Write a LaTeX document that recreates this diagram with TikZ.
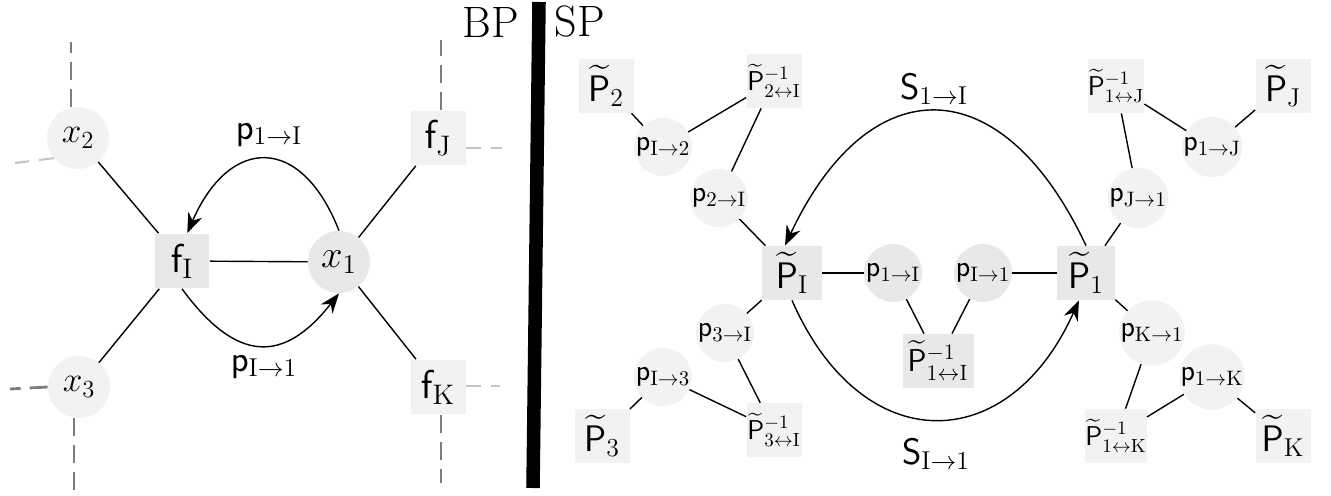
\documentclass[tikz,border=0pt]{standalone}
\usepackage{fix-cm}
\usepackage{amsmath}
\usepackage{tikz}
\usepackage{xcolor}
\usetikzlibrary{arrows.meta}
\definecolor{cLight}{RGB}{242,242,242}
\definecolor{cDark}{RGB}{232,232,232}
\definecolor{cStub}{RGB}{125,125,125}
\newcommand{\tP}{\widetilde{\mathsf{P}}}
\newcommand{\mP}{\mathsf{p}}
\tikzset{
	% factor graph (BP) styles
	varnode/.style  ={circle, fill=cLight, minimum size=1.24cm, inner sep=0pt, font=\fontsize{20}{24}\selectfont},
	facnode/.style  ={rectangle, fill=cLight, minimum size=1.1cm, inner sep=0pt, font=\fontsize{23}{27}\selectfont},
	stub/.style     ={cStub, line width=1.6pt, dash pattern=on 0.36cm off 0.18cm},
	faintstub/.style={cStub!45, line width=1.2pt, dash pattern=on 0.3cm off 0.2cm},
	% SP styles
	msgnode/.style  ={circle, fill=cLight, minimum size=1.16cm, inner sep=0pt, font=\fontsize{17}{20}\selectfont},
	pnode/.style    ={rectangle, fill=cLight, minimum width=1.1cm, minimum height=1.08cm, inner sep=0pt, font=\fontsize{21}{25}\selectfont},
	pinvnode/.style ={rectangle, fill=cLight, minimum width=1.1cm, minimum height=1.08cm, inner sep=0pt, font=\fontsize{15.5}{18}\selectfont},
	link/.style     ={line width=0.8pt},
	msgarrow/.style ={-{Stealth[length=0.4cm, width=0.3cm]}, line width=0.8pt},
	lbl/.style      ={inner sep=0pt, font=\fontsize{21}{25}\selectfont},
	hdr/.style      ={inner sep=0pt, font=\fontsize{25}{30}\selectfont},
}

\begin{document}
\begin{tikzpicture}[x=0.02cm, y=-0.02cm]
	\useasboundingbox (0,0) rectangle (1331,496);
	% BP side
	\node[varnode] (x2) at (78,138) {$x_2$};
	\node[varnode] (x3) at (79,387) {$x_3$};
	\node[varnode, fill=cDark, font=\fontsize{22}{26}\selectfont] (x1) at (339,262) {$x_1$};
	\node[facnode, fill=cDark] (fI) at (182,261) {$\mathsf{f}_{\mathrm{I}}$};
	\node[facnode] (fJ) at (438,138) {$\mathsf{f}_{\mathrm{J}}$};
	\node[facnode] (fK) at (438,387) {$\mathsf{f}_{\mathrm{K}}$};
	\foreach \a/\b in {x2/fI, fI/x3, fI/x1, x1/fJ, x1/fK}
		\draw[link] (\a) -- (\b);
	\draw[msgarrow] (x1.north) .. controls +(-38,-97) and +(42,-97) .. ([xshift=3]fI.north);
	\draw[msgarrow] (fI.south) .. controls +(55,75) and +(-55,70) .. (x1.south);
	\node[lbl] (l1I) at (269,135) {$\mP_{1\to\mathrm{I}}$};
	\node[lbl] (lI1) at (264,367) {$\mP_{\mathrm{I}\to1}$};
	% cut edges
	\coordinate (x2up) at (71,42);
	\coordinate (x2left) at (15,163);
	\coordinate (x3left) at (10,389);
	\coordinate (x3down) at (74,490);
	\coordinate (fJup) at (441,40);
	\coordinate (fJright) at (502,148);
	\coordinate (fKright) at (500,386);
	\coordinate (fKdown) at (441,483);
	\draw[stub] (x2up |- x2.north) -- (x2up);
	\draw[faintstub] (x2.220) -- (x2left);
	\draw[stub] (x3.west) -- (x3left);
	\draw[stub] (x3down |- x3.south) -- (x3down);
	\draw[stub] (fJup |- fJ.north) -- (fJup);
	\draw[faintstub] (fJright -| fJ.east) -- (fJright);
	\draw[faintstub] (fKright -| fK.east) -- (fKright);
	\draw[stub] (fKdown |- fK.south) -- (fKdown);
	% divider
	\node[hdr] (bp) at (491,23) {BP};
	\node[hdr] (sp) at (580,22) {SP};
	\coordinate (bartop) at (539,2);
	\coordinate (barbot) at (533,488);
	\draw[line width=7.7pt] (bartop) -- (barbot);
	% SP side
	\node[pnode] (P2) at (606,86) {$\tP_2$};
	\node[pinvnode] (P2I) at (774,81) {$\tP^{-1}_{2\leftrightarrow\mathrm{I}}$};
	\node[msgnode] (pI2) at (663,147) {$\mP_{\mathrm{I}\to2}$};
	\node[msgnode] (p2I) at (719,198) {$\mP_{2\to\mathrm{I}}$};
	\node[pnode, fill=cDark, minimum width=1.2cm] (PI) at (792,273) {$\tP_{\mathrm{I}}$};
	\node[msgnode, fill=cDark] (p1I) at (893,273) {$\mP_{1\to\mathrm{I}}$};
	\node[msgnode, fill=cDark] (pI1) at (983,273) {$\mP_{\mathrm{I}\to1}$};
	\node[pnode, fill=cDark, minimum width=1.16cm] (P1) at (1086,273) {$\tP_1$};
	\node[pinvnode, fill=cDark, minimum width=1.42cm, font=\fontsize{18}{22}\selectfont] (P1I) at (938,361) {$\tP^{-1}_{1\leftrightarrow\mathrm{I}}$};
	\node[msgnode] (p3I) at (725,333) {$\mP_{3\to\mathrm{I}}$};
	\node[msgnode] (pI3) at (663,377) {$\mP_{\mathrm{I}\to3}$};
	\node[pnode] (P3) at (602,436) {$\tP_3$};
	\node[pinvnode] (P3I) at (774,430) {$\tP^{-1}_{3\leftrightarrow\mathrm{I}}$};
	\node[pinvnode] (P1J) at (1116,86) {$\tP^{-1}_{1\leftrightarrow\mathrm{J}}$};
	\node[pnode] (PJ) at (1283,86) {$\tP_{\mathrm{J}}$};
	\node[msgnode] (p1J) at (1212,147) {$\mP_{1\to\mathrm{J}}$};
	\node[msgnode] (pJ1) at (1138,198) {$\mP_{\mathrm{J}\to1}$};
	\node[msgnode] (pK1) at (1152,333) {$\mP_{\mathrm{K}\to1}$};
	\node[msgnode] (p1K) at (1212,377) {$\mP_{1\to\mathrm{K}}$};
	\node[pinvnode] (P1K) at (1116,436) {$\tP^{-1}_{1\leftrightarrow\mathrm{K}}$};
	\node[pnode] (PK) at (1283,436) {$\tP_{\mathrm{K}}$};
	\foreach \a/\b in {P2/pI2, pI2/P2I, P2I/p2I, p2I/PI, PI/p1I, p1I/P1I, P1I/pI1, pI1/P1, PI/p3I, p3I/P3I, P3I/pI3, pI3/P3, P1/pJ1, pJ1/P1J, P1J/p1J, p1J/PJ, P1/pK1, pK1/P1K, P1K/p1K, p1K/PK}
		\draw[link] (\a) -- (\b);
	\draw[msgarrow] (P1.north) .. controls +(-84,-179) and +(84,-179) .. ([xshift=-4]PI.north);
	\draw[msgarrow] (PI.south) .. controls +(70,160) and +(-70,157) .. ([xshift=-4]P1.south);
	\node[lbl] (S1I) at (934,89) {$\mathsf{S}_{1\to\mathrm{I}}$};
	\node[lbl] (SI1) at (936,454) {$\mathsf{S}_{\mathrm{I}\to1}$};
\end{tikzpicture}
\end{document}
